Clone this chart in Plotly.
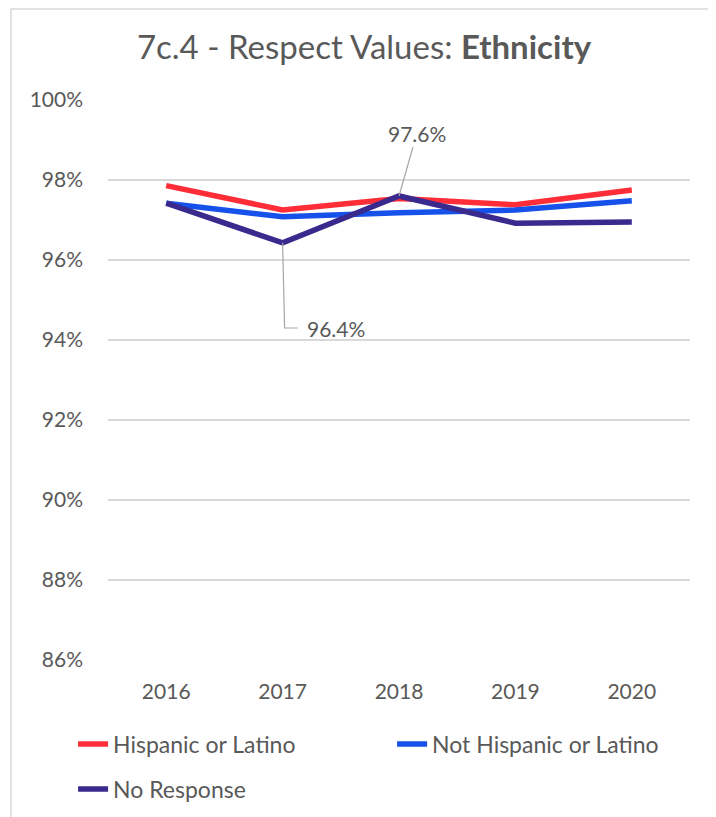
import plotly.graph_objects as go

years = ["2016", "2017", "2018", "2019", "2020"]
hispanic = [97.86, 97.25, 97.54, 97.38, 97.75]
not_hispanic = [97.42, 97.08, 97.18, 97.25, 97.48]
no_response = [97.42, 96.43, 97.60, 96.92, 96.95]
y_ticks = [86, 88, 90, 92, 94, 96, 98, 100]

series = [
    ("Hispanic or Latino", hispanic, "#FF2D37", "legend"),
    ("Not Hispanic or Latino", not_hispanic, "#1651EA", "legend"),
    ("No Response", no_response, "#3B2A8E", "legend2"),
]

FONT = "Lato, 'Open Sans', sans-serif"
TXT = "#595959"

xpos = list(range(len(years)))

fig = go.Figure()
for name, vals, col, lg in series:
    fig.add_trace(go.Scatter(
        x=xpos, y=vals, name=name, mode="lines", legend=lg,
        line=dict(color=col, width=5.5, shape="linear"),
    ))

# data label annotations for No Response
fig.add_annotation(
    x=xpos[2], y=no_response[2], text=f"{no_response[2]:.1f}%",
    showarrow=True, arrowhead=0, arrowwidth=1.2, arrowcolor="#A6A6A6",
    ax=18, ay=-63, font=dict(family=FONT, size=21, color=TXT),
)
lab_y = no_response[1] - 2.13
fig.add_shape(
    type="path", xref="x", yref="y",
    path=f"M {xpos[1]},{no_response[1]} L {xpos[1] + 0.017},{lab_y} L {xpos[1] + 0.13},{lab_y}",
    line=dict(color="#A6A6A6", width=1.2),
)
fig.add_annotation(
    x=xpos[1] + 0.19, y=lab_y, text=f"{no_response[1]:.1f}%", showarrow=False,
    xanchor="left", yanchor="middle", yshift=0,
    font=dict(family=FONT, size=21, color=TXT),
)

# chart border
fig.add_shape(
    type="rect", xref="paper", yref="paper",
    x0=-0.1667, x1=1.3, y0=-0.5, y1=1.1625,
    line=dict(color="#D9D9D9", width=1.5), layer="below",
)

fig.update_layout(
    width=716, height=817,
    margin=dict(l=100, r=34, t=92, b=165),
    paper_bgcolor="white", plot_bgcolor="white",
    font=dict(family=FONT, color=TXT, size=21),
    title=dict(
        text="7c.4 - Respect Values: <b>Ethnicity</b>",
        x=356 / 716, xanchor="center", y=1 - 39 / 817, yanchor="middle",
        font=dict(family=FONT, size=33, color=TXT),
    ),
    xaxis=dict(
        range=[-0.5, len(years) - 0.5], tickvals=xpos, ticktext=years,
        showgrid=False, zeroline=False, showline=False,
        ticks="", tickfont=dict(size=21, color=TXT), ticklabelstandoff=17,
    ),
    yaxis=dict(
        range=[86, 100], tickvals=y_ticks, ticktext=[f"{v}%" for v in y_ticks],
        showgrid=True, gridcolor="#D9D9D9", gridwidth=1.5,
        zeroline=False, showline=False, ticks="",
        tickfont=dict(size=21, color=TXT), ticklabelstandoff=24,
    ),
    legend=dict(
        orientation="h", x=-0.060, xanchor="left", y=-0.15, yanchor="middle",
        entrywidth=274, font=dict(size=23, color=TXT), traceorder="normal",
        bgcolor="rgba(0,0,0,0)",
    ),
    legend2=dict(
        orientation="h", x=-0.060, xanchor="left", y=-0.2304, yanchor="middle",
        font=dict(size=23, color=TXT), bgcolor="rgba(0,0,0,0)",
    ),
    showlegend=True,
)

fig.write_html("out.html")
